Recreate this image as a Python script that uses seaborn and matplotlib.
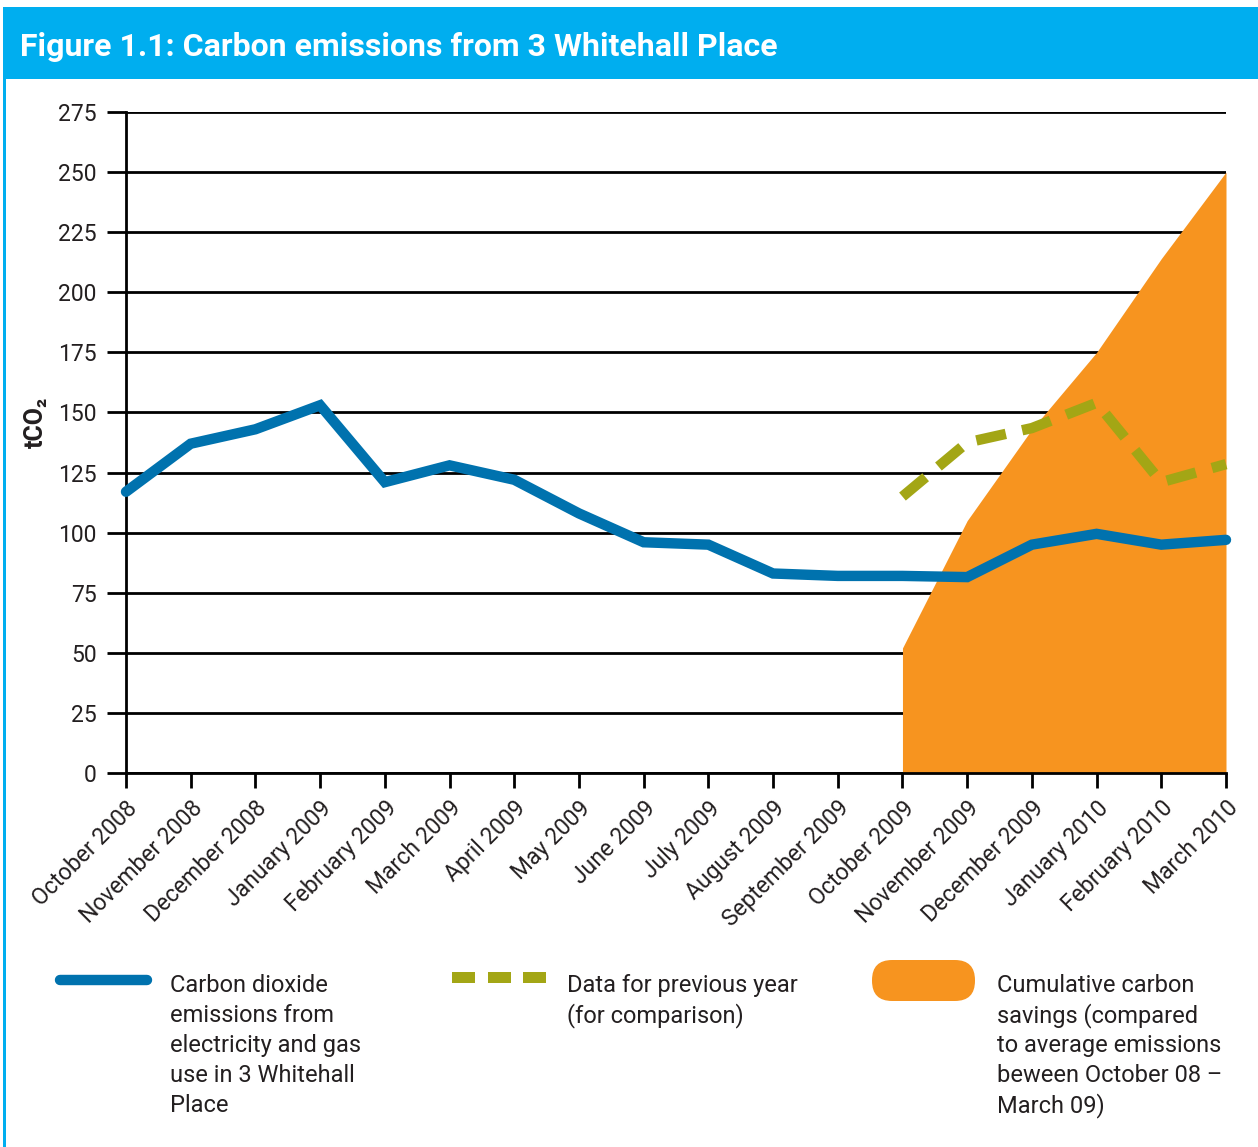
import matplotlib
matplotlib.use('Agg')
import numpy as np
import pandas as pd
import seaborn as sns
import matplotlib.pyplot as plt
from matplotlib.patches import Rectangle, FancyBboxPatch
from matplotlib.lines import Line2D

sns.set_theme(style='white')
plt.rcParams['font.family'] = ['Roboto', 'DejaVu Sans']

# data
months = ['October 2008', 'November 2008', 'December 2008', 'January 2009',
          'February 2009', 'March 2009', 'April 2009', 'May 2009', 'June 2009',
          'July 2009', 'August 2009', 'September 2009', 'October 2009',
          'November 2009', 'December 2009', 'January 2010', 'February 2010',
          'March 2010']
emissions = [117, 137, 143, 153, 121, 128, 122, 108, 96, 95, 83, 82, 82, 81.5,
             95, 99.5, 95, 97]
prev_year = [None] * 12 + [115, 137.5, 143.5, 154, 121, 128.5]
savings = [None] * 12 + [52, 105, 143, 175, 214, 250]
yticks = [0, 25, 50, 75, 100, 125, 150, 175, 200, 225, 250, 275]

blue = '#0072AE'
green = '#A3A615'
orange = '#F7941F'
cyan = '#00AEEF'
txt = '#231F20'

df = pd.DataFrame({'month': months, 'x': range(len(months)),
                   'emissions': emissions, 'prev': prev_year, 'savings': savings})
df['prev'] = pd.to_numeric(df['prev'])
df['savings'] = pd.to_numeric(df['savings'])

W, H = 1258, 1147
fig = plt.figure(figsize=(W / 100, H / 100), dpi=100)
fig.patch.set_facecolor('white')

# title bar and left border
fig.add_artist(Rectangle((3 / W, 1 - 79 / H), 1, 72 / H, transform=fig.transFigure,
                         facecolor=cyan, edgecolor='none'))
fig.add_artist(Rectangle((3 / W, 0), 3 / W, 1 - 79 / H, transform=fig.transFigure,
                         facecolor=cyan, edgecolor='none'))
fig.text(20 / W, 1 - 47 / H, 'Figure 1.1: Carbon emissions from 3 Whitehall Place',
         color='white', fontsize=23, fontweight='bold', va='center', ha='left')

ax = fig.add_axes([126 / W, 374 / H, 1100 / W, 661 / H])

# grid lines below everything
for v in yticks:
    ax.axhline(v, color='black', lw=2, zorder=1)

sub = df.dropna(subset=['savings'])
ax.fill_between(sub['x'], 0, sub['savings'], color=orange, lw=0, zorder=2)

sns.lineplot(data=df, x='x', y='emissions', ax=ax, color=blue, lw=7.5,
             solid_capstyle='round', solid_joinstyle='miter', zorder=4, clip_on=False)
sub2 = df.dropna(subset=['prev'])
sns.lineplot(data=sub2, x='x', y='prev', ax=ax, color=green, lw=7.5,
             dashes=False, zorder=5, clip_on=False)
ax.lines[-1].set_dashes([2.9, 1.6])
ax.lines[-1].set_dash_capstyle('butt')

ax.set_xlim(0, len(months) - 1)
ax.set_ylim(0, 275)
ax.set_xticks(range(len(months)))
ax.set_xticklabels(months, rotation=45, ha='right', va='top',
                   rotation_mode='anchor', fontsize=16.5, color=txt)
ax.set_yticks(yticks)
ax.set_yticklabels([str(v) for v in yticks], fontsize=16.5, color=txt)
ax.tick_params(axis='y', length=14, width=2, pad=7, color='black', left=True)
ax.tick_params(axis='x', length=11, width=2, pad=6, color='black', bottom=True)
ax.set_xlabel('')
ax.set_ylabel('tCO₂', fontsize=18, fontweight='bold', color=txt)
ax.yaxis.set_label_coords(-0.0709, 0.53)
for s in ['top', 'right']:
    ax.spines[s].set_visible(False)
ax.spines['left'].set_linewidth(2)
ax.spines['left'].set_color('black')
ax.spines['left'].set_bounds(0, 275)
ax.spines['bottom'].set_linewidth(2)
ax.spines['bottom'].set_color('black')
ax.set_facecolor('none')

# legend
def fy(y):
    return 1 - y / H

fig.add_artist(Line2D([60 / W, 147 / W], [fy(980), fy(980)], transform=fig.transFigure,
                      color=blue, lw=7.5, solid_capstyle='round'))
for x0 in [452, 488, 523]:
    fig.add_artist(Rectangle((x0 / W, fy(983)), 23 / W, 11 / H, transform=fig.transFigure,
                             facecolor=green, edgecolor='none'))
fig.add_artist(FancyBboxPatch((872 / W, fy(1001)), 103 / W, 41 / H,
                              boxstyle='round,pad=0,rounding_size=0.016',
                              mutation_aspect=W / H,
                              transform=fig.transFigure, facecolor=orange,
                              edgecolor='none'))

legend_texts = [
    (170, ['Carbon dioxide', 'emissions from', 'electricity and gas',
           'use in 3 Whitehall', 'Place']),
    (567, ['Data for previous year', '(for comparison)']),
    (997, ['Cumulative carbon', 'savings (compared', 'to average emissions',
           'beween October 08 –', 'March 09)']),
]
for x0, lines in legend_texts:
    for i, t in enumerate(lines):
        fig.text(x0 / W, fy(992 + 30 * i), t, fontsize=17, color=txt,
                 ha='left', va='baseline')

fig.savefig('out.png', dpi=100, facecolor='white')
